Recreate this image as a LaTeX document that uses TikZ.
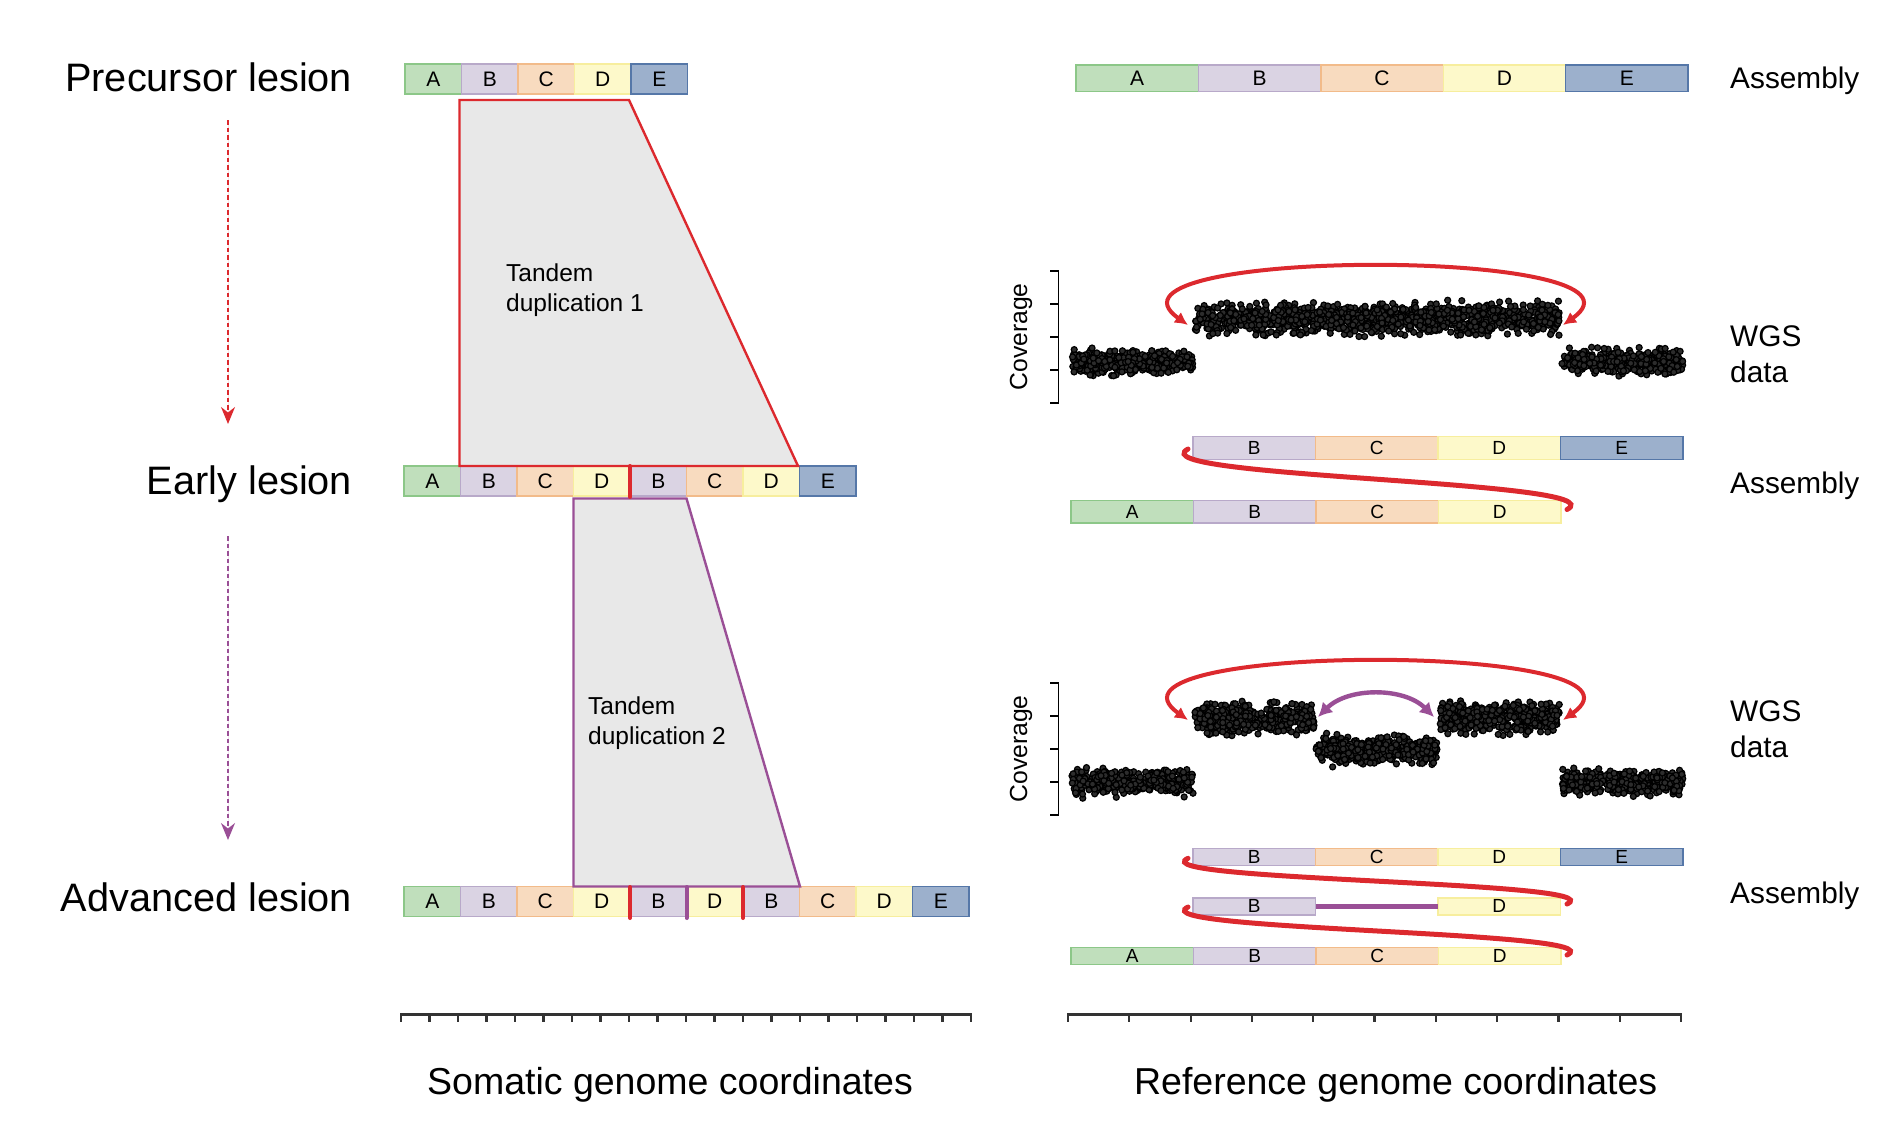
\documentclass[tikz,border=0pt]{standalone}
\usepackage{fontspec}
\setmainfont{Liberation Sans}
\usetikzlibrary{arrows.meta}
\definecolor{aFill}{HTML}{C0DFBC}
\definecolor{aLine}{HTML}{8CC788}
\definecolor{bFill}{HTML}{DAD3E3}
\definecolor{bLine}{HTML}{B8A9C9}
\definecolor{cFill}{HTML}{F8DBBF}
\definecolor{cLine}{HTML}{F2BB8A}
\definecolor{dFill}{HTML}{FDF9CA}
\definecolor{dLine}{HTML}{F7EE9E}
\definecolor{eFill}{HTML}{9CB0CC}
\definecolor{eLine}{HTML}{5577A8}
\definecolor{trapFill}{HTML}{E8E8E8}
\definecolor{tdRed}{HTML}{DC292E}
\definecolor{tdPurple}{HTML}{9A4F96}
\definecolor{axisGray}{HTML}{333333}
\definecolor{dotFill}{HTML}{2C2C2C}
\tikzset{
  seg/.style={draw, line width=1.4pt, inner sep=0pt, outer sep=0pt, anchor=west,
    minimum width=56.5pt, minimum height=30pt, font=\fontsize{21}{21}\selectfont},
  segA/.style={seg, fill=aFill, draw=aLine},
  segB/.style={seg, fill=bFill, draw=bLine},
  segC/.style={seg, fill=cFill, draw=cLine},
  segD/.style={seg, fill=dFill, draw=dLine},
  segE/.style={seg, fill=eFill, draw=eLine},
  lesionlabel/.style={anchor=base east, inner sep=0pt, font=\fontsize{39.7}{44}\selectfont},
  sidelabel/.style={anchor=base west, inner sep=0pt, align=left, font=\fontsize{29.8}{36}\selectfont},
  axislabel/.style={anchor=base, inner sep=0pt, font=\fontsize{37.5}{42}\selectfont},
  tdlabel/.style={anchor=north west, inner sep=0pt, align=left, font=\fontsize{24.5}{30}\selectfont},
  covlabel/.style={anchor=base, inner sep=0pt, rotate=90, font=\fontsize{24.7}{28}\selectfont},
  covdot/.style={draw=black, fill=dotFill, line width=1.2pt},
  covaxis/.style={draw=black, line width=1.8pt},
  genaxis/.style={draw=axisGray, line width=2.2pt},
  dupsep/.style={line width=4pt, line cap=round},
  trapbox/.style={fill=trapFill, line width=2.4pt},
  timeline/.style={line width=1.6pt, dash pattern=on 4.5pt off 3pt, >={Stealth[length=17pt,width=14pt]}, ->},
  joinline/.style={draw=tdRed, line width=5pt, line cap=round},
  arcred/.style={draw=tdRed, line width=4pt, >={Latex[length=13pt,width=13pt]}, <->},
  arcpurple/.style={draw=tdPurple, line width=4.4pt, >={Latex[length=14pt,width=15pt]}, <->}
}
\begin{document}
\begin{tikzpicture}[x=1pt, y=-1pt]
\useasboundingbox (0,0) rectangle (1889,1125);

\node[lesionlabel] (lpre) at (352.3,91.7) {Precursor lesion};
\node[lesionlabel] (lear) at (352.3,494.0) {Early lesion};
\node[lesionlabel] (ladv) at (352.3,911.4) {Advanced lesion};

\coordinate (t1a) at (228,120);
\coordinate (t1b) at (228,424);
\coordinate (t2a) at (228,536);
\coordinate (t2b) at (228,840);
\draw[timeline, draw=tdRed, fill=tdRed] (t1a) -- (t1b);
\draw[timeline, draw=tdPurple, fill=tdPurple] (t2a) -- (t2b);

\node[segA] (pre1) at (405.0,79) {A};
\node[segB] (pre2) at (461.5,79) {B};
\node[segC] (pre3) at (518.0,79) {C};
\node[segD] (pre4) at (574.5,79) {D};
\node[segE] (pre5) at (631.0,79) {E};

\node[segA] (ear1) at (404.0,481) {A};
\node[segB] (ear2) at (460.5,481) {B};
\node[segC] (ear3) at (517.0,481) {C};
\node[segD] (ear4) at (573.5,481) {D};
\node[segB] (ear5) at (630.0,481) {B};
\node[segC] (ear6) at (686.5,481) {C};
\node[segD] (ear7) at (743.0,481) {D};
\node[segE] (ear8) at (799.5,481) {E};

\node[segA] (adv1) at (404.0,901.7) {A};
\node[segB] (adv2) at (460.5,901.7) {B};
\node[segC] (adv3) at (517.0,901.7) {C};
\node[segD] (adv4) at (573.5,901.7) {D};
\node[segB] (adv5) at (630.0,901.7) {B};
\node[segD] (adv6) at (686.5,901.7) {D};
\node[segB] (adv7) at (743.0,901.7) {B};
\node[segC] (adv8) at (799.5,901.7) {C};
\node[segD] (adv9) at (856.0,901.7) {D};
\node[segE] (adv10) at (912.5,901.7) {E};

\draw[trapbox, draw=tdRed] (459.5,100) -- (629,100) -- (798,466) -- (459.5,466) -- cycle;
\draw[trapbox, draw=tdPurple] (573.5,498.5) -- (686.5,498.5) -- (800,886.5) -- (573.5,886.5) -- cycle;
\node[tdlabel] (td1) at (506,263.5) {Tandem\\duplication 1};
\node[tdlabel] (td2) at (588,697.0) {Tandem\\duplication 2};

\draw[dupsep, draw=tdRed] (630,466) -- (630,497);
\draw[dupsep, draw=tdRed] (630,887) -- (630,918);
\draw[dupsep, draw=tdPurple] (686.5,887) -- (686.5,918);
\draw[dupsep, draw=tdRed] (743,887) -- (743,918);

\draw[genaxis] (401,1014.5) -- (971,1014.5);
\foreach \t in {0,...,20}
  \draw[genaxis] ({401+28.5*\t},1013.4) -- ({401+28.5*\t},1021.5);
\node[axislabel] (xsom) at (670,1094) {Somatic genome coordinates};

\begin{scope}[seg/.append style={minimum width=122.4pt, minimum height=26.7pt}]
\node[segA] (asm1) at (1076.0,78.3) {A};
\node[segB] (asm2) at (1198.4,78.3) {B};
\node[segC] (asm3) at (1320.8,78.3) {C};
\node[segD] (asm4) at (1443.2,78.3) {D};
\node[segE] (asm5) at (1565.6,78.3) {E};
\end{scope}
\node[sidelabel] (lasm1) at (1730,88.8) {Assembly};

\draw[covaxis] (1050,270.7) -- (1058.5,270.7) -- (1058.5,403.3) -- (1050,403.3);
\draw[covaxis] (1050,303.85) -- (1058.5,303.85);
\draw[covaxis] (1050,337.0) -- (1058.5,337.0);
\draw[covaxis] (1050,370.15) -- (1058.5,370.15);
\node[covlabel] (lcov1) at (1027,337) {Coverage};
\pgfmathsetseed{7}
\foreach \xa/\xb/\yc/\sd/\n in {1072/1193/362/5.5/420, 1195/1560/318.5/7/1260, 1562/1683/362/5.5/420}
  \foreach \i in {1,...,\n}
    \filldraw[covdot] ({\xa+rnd*(\xb-\xa)},{\yc+\sd*(rand+rand+rand)}) circle[radius=3pt];
\coordinate (arc1l) at (1188,325);
\coordinate (arc1r) at (1563,325);
\draw[arcred] (arc1l) .. controls +(-110,-78) and +(110,-78) .. (arc1r);
\node[sidelabel, anchor=north west] (lwgs1) at (1730,325) {WGS\\data};

\begin{scope}[seg/.append style={minimum width=122.5pt, minimum height=22.6pt, font=\fontsize{19}{19}\selectfont}]
\node[segB] (wga1) at (1193.0,448) {B};
\node[segC] (wga2) at (1315.5,448) {C};
\node[segD] (wga3) at (1438.0,448) {D};
\node[segE] (wga4) at (1560.5,448) {E};
\node[segA] (wgb1) at (1071.0,511.7) {A};
\node[segB] (wgb2) at (1193.5,511.7) {B};
\node[segC] (wgb3) at (1316.0,511.7) {C};
\node[segD] (wgb4) at (1438.5,511.7) {D};
\end{scope}
\coordinate (j1a) at (1188,449);
\coordinate (j1b) at (1567,509.5);
\draw[joinline] (j1a) .. controls +(-53,29) and +(53,-29) .. (j1b);
\node[sidelabel] (lasm2) at (1730,493) {Assembly};

\draw[covaxis] (1050,683.3) -- (1058.5,683.3) -- (1058.5,815) -- (1050,815);
\draw[covaxis] (1050,716.2) -- (1058.5,716.2);
\draw[covaxis] (1050,749.15) -- (1058.5,749.15);
\draw[covaxis] (1050,782.1) -- (1058.5,782.1);
\node[covlabel] (lcov2) at (1027,749) {Coverage};
\foreach \xa/\xb/\yc/\sd/\n in {1072/1193/782/5.5/420, 1195/1314/718/7/420, 1316/1437/749.5/6.5/420, 1440/1560/718/7/420, 1562/1683/782/5.5/420}
  \foreach \i in {1,...,\n}
    \filldraw[covdot] ({\xa+rnd*(\xb-\xa)},{\yc+\sd*(rand+rand+rand)}) circle[radius=3pt];
\coordinate (arc2l) at (1188,720);
\coordinate (arc2r) at (1563,720);
\draw[arcred] (arc2l) .. controls +(-110,-78) and +(110,-78) .. (arc2r);
\coordinate (arc3l) at (1318,717);
\coordinate (arc3r) at (1434,717);
\draw[arcpurple] (arc3l) .. controls +(30,-30) and +(-30,-30) .. (arc3r);
\node[sidelabel, anchor=north west] (lwgs2) at (1730,700) {WGS\\data};

\begin{scope}[seg/.append style={minimum width=122.5pt, minimum height=17pt, font=\fontsize{19}{19}\selectfont}]
\node[segB] (wgc1) at (1193.0,856.7) {B};
\node[segC] (wgc2) at (1315.5,856.7) {C};
\node[segD] (wgc3) at (1438.0,856.7) {D};
\node[segE] (wgc4) at (1560.5,856.7) {E};
\node[segB] (wgd1) at (1193.0,906.3) {B};
\node[segD] (wgd2) at (1438.0,906.3) {D};
\node[segA] (wge1) at (1071.0,956) {A};
\node[segB] (wge2) at (1193.5,956) {B};
\node[segC] (wge3) at (1316.0,956) {C};
\node[segD] (wge4) at (1438.5,956) {D};
\end{scope}
\draw[draw=tdPurple, line width=4.5pt] (wgd1.east) -- (wgd2.west);
\coordinate (j2a) at (1188,858.3);
\coordinate (j2b) at (1567,904);
\coordinate (j3a) at (1188,907);
\coordinate (j3b) at (1567,955);
\draw[joinline] (j2a) .. controls +(-50,23) and +(50,-23) .. (j2b);
\draw[joinline] (j3a) .. controls +(-50,24) and +(50,-24) .. (j3b);
\node[sidelabel] (lasm3) at (1730,903) {Assembly};

\draw[genaxis] (1068,1014.5) -- (1681,1014.5);
\foreach \t in {0,...,10}
  \draw[genaxis] ({1068+61.3*\t},1013.4) -- ({1068+61.3*\t},1021.5);
\node[axislabel] (xref) at (1395.7,1094) {Reference genome coordinates};
\end{tikzpicture}
\end{document}
